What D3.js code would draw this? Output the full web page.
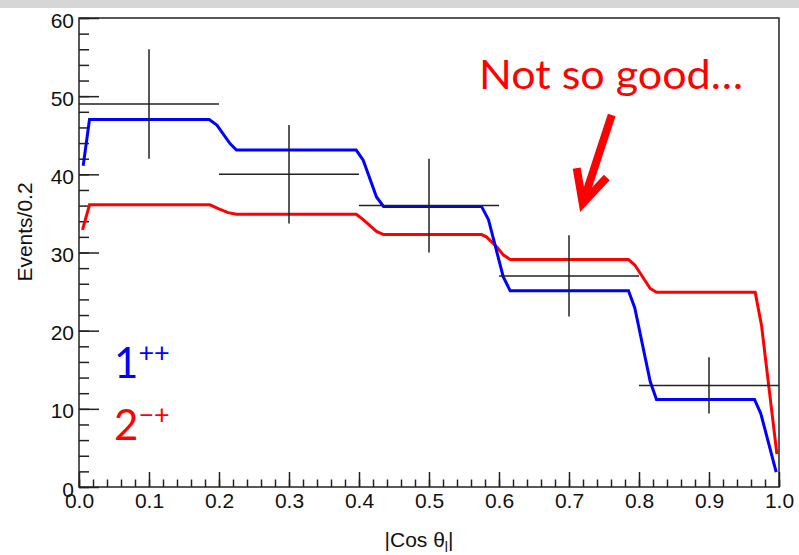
<!DOCTYPE html>
<html>
<head>
<meta charset="utf-8">
<script src="https://cdn.jsdelivr.net/npm/d3@7"></script>
<style>
	body { margin: 0; background: #fff; }
	svg { display: block; }
	.axis text { font-family: "Liberation Sans", Arial, sans-serif; font-size: 21px; fill: #111; }
	.axis path { display: none; }
	.axis line { stroke: #222; stroke-width: 1.5; }
</style>
</head>
<body>
<div id="chart"></div>
<script>
"use strict";

// Measured points (bin centres, counts, errors)
var binCentres = [0.1, 0.3, 0.5, 0.7, 0.9],
	binCounts = [49, 40, 36, 27, 13],
	binErrors = [7.0, 6.3, 6.0, 5.2, 3.6],
	binHalfWidth = 0.1;

// 1++ hypothesis curve [cos, events]
var curve1pp = [
	[0.006, 41.1], [0.015, 47.0], [0.186, 47.0], [0.197, 46.3], [0.216, 43.9], [0.225, 43.1],
	[0.396, 43.1], [0.406, 41.8], [0.425, 37.1], [0.435, 35.9], [0.575, 35.9], [0.585, 34.2],
	[0.606, 26.9], [0.616, 25.1], [0.785, 25.1], [0.794, 22.9], [0.816, 13.5], [0.825, 11.2],
	[0.965, 11.2], [0.974, 9.4], [0.996, 1.9]
];

// 2-+ hypothesis curve [cos, events]
var curve2mp = [
	[0.005, 32.9], [0.015, 36.1], [0.187, 36.1], [0.199, 35.6], [0.213, 35.1], [0.225, 34.9],
	[0.396, 34.9], [0.406, 34.2], [0.425, 32.7], [0.435, 32.3], [0.575, 32.3], [0.582, 32.0],
	[0.597, 30.7], [0.606, 29.7], [0.616, 29.1], [0.785, 29.1], [0.794, 28.4], [0.816, 25.4],
	[0.825, 24.9], [0.966, 24.9], [0.975, 20.7], [0.997, 4.2]
];

var xTicks = [0, 0.1, 0.2, 0.3, 0.4, 0.5, 0.6, 0.7, 0.8, 0.9, 1.0],
	yTicks = [0, 10, 20, 30, 40, 50, 60];

// Graph dimensions
var margin = { top: 18, right: 20, bottom: 68, left: 79 },
	width = 700,
	height = 469;

var svg = d3.select("#chart").append("svg")
	.attr("width", 799)
	.attr("height", 555);

// grey strip at the very top of the slide
svg.append("rect")
	.attr("x", 0).attr("y", 0)
	.attr("width", 799).attr("height", 8)
	.attr("fill", "#d6d6d6");

var canvas = svg.append("g")
	.attr("transform", "translate(" + margin.left + "," + margin.top + ")");

var x = d3.scaleLinear().domain([0, 1]).range([0, width]);
var y = d3.scaleLinear().domain([0, 60]).range([height, 0]);

// minor ticks
canvas.append("g")
	.attr("class", "axis")
	.attr("transform", "translate(0," + height + ")")
	.call(d3.axisBottom(x).tickValues(d3.range(0, 1.001, 0.02)).tickSize(-7.5).tickFormat(""));

canvas.append("g")
	.attr("class", "axis")
	.call(d3.axisLeft(y).tickValues(d3.range(0, 61, 2)).tickSize(-10).tickFormat(""));

// major ticks with labels
canvas.append("g")
	.attr("class", "axis")
	.attr("transform", "translate(0," + height + ")")
	.call(d3.axisBottom(x).tickValues(xTicks).tickSize(-15).tickPadding(8).tickFormat(d3.format(".1f")))
	.selectAll("text")
	.attr("y", 21)
	.attr("dy", 0);

canvas.append("g")
	.attr("class", "axis")
	.call(d3.axisLeft(y).tickValues(yTicks).tickSize(-20).tickPadding(5).tickFormat(d3.format("d")))
	.selectAll("text")
	.attr("dy", 9);

// frame
canvas.append("rect")
	.attr("width", width)
	.attr("height", height)
	.attr("fill", "none")
	.attr("stroke", "#222")
	.attr("stroke-width", 1.5);

// hypothesis curves
var line = d3.line()
	.x(function (d) { return x(d[0]); })
	.y(function (d) { return y(d[1]); });

canvas.append("path")
	.datum(curve2mp)
	.attr("d", line)
	.attr("fill", "none")
	.attr("stroke", "#ff0000")
	.attr("stroke-width", 3);

canvas.append("path")
	.datum(curve1pp)
	.attr("d", line)
	.attr("fill", "none")
	.attr("stroke", "#0000ff")
	.attr("stroke-width", 3);

// data points with error crosses
var pts = binCentres.map(function (c, i) {
	return { c: c, n: binCounts[i], e: binErrors[i] };
});

var cross = canvas.selectAll(".pt")
	.data(pts)
	.enter().append("g")
	.attr("class", "pt");

cross.append("line")
	.attr("x1", function (d) { return x(d.c - binHalfWidth); })
	.attr("x2", function (d) { return x(d.c + binHalfWidth); })
	.attr("y1", function (d) { return y(d.n); })
	.attr("y2", function (d) { return y(d.n); })
	.attr("stroke", "#222")
	.attr("stroke-width", 1.5);

cross.append("line")
	.attr("x1", function (d) { return x(d.c); })
	.attr("x2", function (d) { return x(d.c); })
	.attr("y1", function (d) { return y(d.n - d.e); })
	.attr("y2", function (d) { return y(d.n + d.e); })
	.attr("stroke", "#222")
	.attr("stroke-width", 1.5);

// axis titles
svg.append("text")
	.attr("transform", "translate(32,232) rotate(-90)")
	.attr("text-anchor", "middle")
	.style("font-family", "'Liberation Sans', Arial, sans-serif")
	.style("font-size", "21px")
	.attr("fill", "#111")
	.text("Events/0.2");

var xt = svg.append("text")
	.attr("x", 419)
	.attr("y", 547)
	.attr("text-anchor", "middle")
	.style("font-family", "'Liberation Sans', Arial, sans-serif")
	.style("font-size", "21px")
	.attr("fill", "#111");
xt.append("tspan").text("|Cos θ");
xt.append("tspan").attr("dy", 5).style("font-size", "14px").text("l");
xt.append("tspan").attr("dy", -5).text("|");

// legend
function legendEntry(base, sup, colour, baseline) {
	var t = svg.append("text")
		.attr("x", 114)
		.attr("y", baseline)
		.style("font-family", "Lato, 'Open Sans', sans-serif")
		.style("font-size", "42px")
		.attr("fill", colour);
	t.append("tspan").text(base);
	t.append("tspan").attr("dy", -16).style("font-size", "27px").text(sup);
}
legendEntry("1", "++", "#0000ff", 378);
legendEntry("2", "\u2212+", "#ff0000", 440);

// annotation
svg.append("text")
	.attr("x", 479)
	.attr("y", 89)
	.attr("textLength", 264)
	.attr("lengthAdjust", "spacingAndGlyphs")
	.style("font-family", "Lato, 'Open Sans', sans-serif")
	.style("font-size", "40px")
	.attr("fill", "#ff0000")
	.text("Not so good\u2026");

var tail = [0.761, 47.6], tip = [0.7196, 36.3],
	wingL = [0.711, 40.8], wingR = [0.754, 39.6];

canvas.append("path")
	.attr("d", "M" + x(tail[0]) + "," + y(tail[1]) + "L" + x(tip[0]) + "," + y(tip[1]))
	.attr("stroke", "#ff0000")
	.attr("stroke-width", 8)
	.attr("fill", "none");

canvas.append("path")
	.attr("d", "M" + x(wingL[0]) + "," + y(wingL[1]) + "L" + x(tip[0]) + "," + y(tip[1]) + "L" + x(wingR[0]) + "," + y(wingR[1]))
	.attr("stroke", "#ff0000")
	.attr("stroke-width", 8)
	.attr("stroke-linejoin", "miter")
	.attr("fill", "none");
</script>
</body>
</html>
